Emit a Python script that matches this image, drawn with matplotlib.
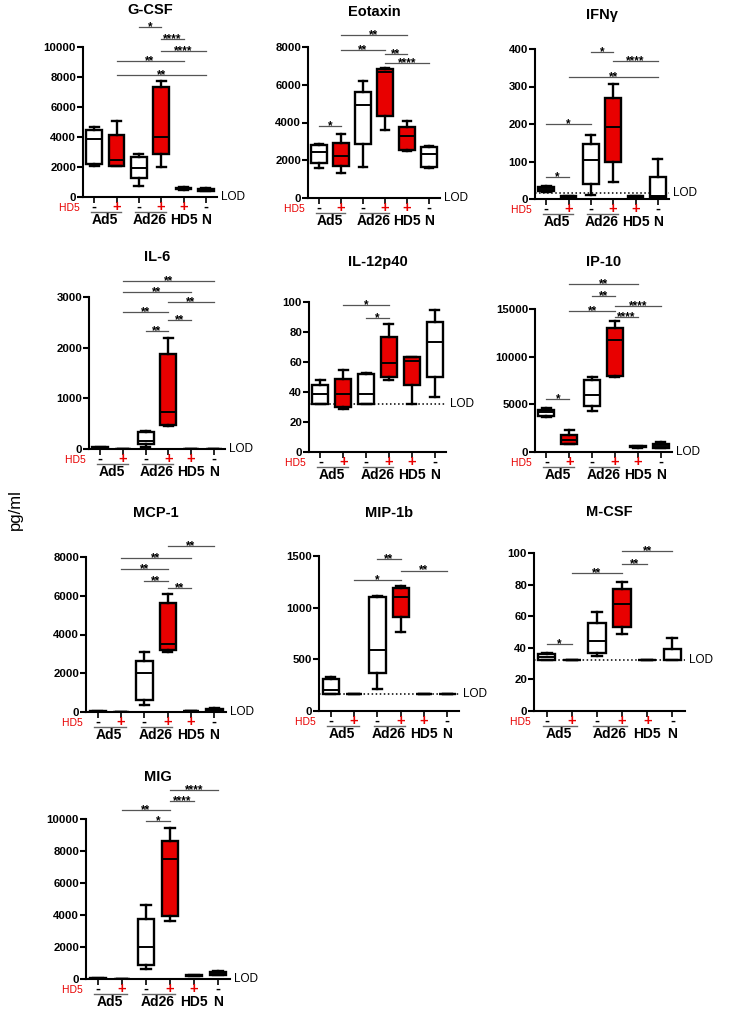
import matplotlib.pyplot as plt

plt.rcParams['font.family'] = ['Liberation Sans', 'DejaVu Sans']

RED = '#e80000'

signs = ['-', '+', '-', '+', '+', '-']
red_fill = [False, True, False, True, True, False]
groups = ['Ad5', 'Ad26', 'HD5', 'N']
group_x = [0.5, 2.5, 4, 5]
group_lines = [(0, 1), (2, 3)]

titles = ['G-CSF', 'Eotaxin', 'IFNγ', 'IL-6', 'IL-12p40', 'IP-10',
          'MCP-1', 'MIP-1b', 'M-CSF', 'MIG']
ymax = [10000, 8000, 400, 3000, 100, 15000, 8000, 1500, 100, 10000]
ystep = [2000, 2000, 100, 1000, 20, 5000, 2000, 500, 20, 2000]
lod = [0, 0, 16, 0, 32, 0, 0, 163, 32, 0]

# whislo, q1, median, q3, whishi  for Ad5-, Ad5+, Ad26-, Ad26+, HD5+, N
gcsf = [[2050, 2200, 3900, 4450, 4700], [2050, 2100, 2500, 4150, 5050],
        [750, 1250, 1950, 2650, 2850], [2000, 2850, 4000, 7300, 7750],
        [480, 520, 560, 600, 640], [380, 430, 500, 560, 620]]
eotaxin = [[1600, 1880, 2450, 2800, 2850], [1350, 1700, 2200, 2900, 3380],
           [1650, 2870, 4950, 5600, 6180], [3600, 4350, 6650, 6820, 6900],
           [2500, 2550, 3300, 3780, 4100], [1600, 1620, 2350, 2720, 2780]]
ifng = [[20, 22, 28, 33, 36], [5, 5, 6, 7, 8],
        [12, 40, 105, 148, 172], [46, 100, 192, 270, 307],
        [5, 5, 6, 7, 8], [5, 6, 8, 60, 108]]
il6 = [[10, 15, 20, 30, 35], [3, 4, 5, 6, 7],
       [40, 90, 150, 340, 360], [460, 480, 730, 1870, 2200],
       [3, 4, 5, 6, 7], [3, 4, 5, 6, 7]]
il12 = [[32, 32, 38.5, 45, 48], [29, 30, 38.5, 48.5, 55],
        [32, 32, 38.5, 52, 53], [48, 50, 59.5, 76.5, 85.5],
        [32, 44.5, 60.5, 63.5, 63.5], [36.5, 50, 73.5, 86.5, 95]]
ip10 = [[3700, 3750, 4150, 4450, 4650], [870, 880, 1300, 1800, 2350],
        [4250, 4800, 6000, 7550, 7850], [7900, 7950, 11700, 13000, 13700],
        [450, 500, 550, 600, 650], [400, 450, 600, 800, 1100]]
mcp1 = [[10, 20, 30, 40, 50], [5, 8, 10, 12, 15],
        [340, 630, 2000, 2640, 3120], [3100, 3200, 3500, 5630, 6100],
        [30, 40, 50, 60, 70], [60, 80, 120, 170, 210]]
mip1b = [[160, 165, 200, 305, 330], [160, 160, 160, 160, 160],
         [210, 370, 590, 1100, 1115], [760, 910, 1105, 1195, 1205],
         [160, 160, 160, 160, 160], [160, 160, 160, 160, 160]]
mcsf = [[32, 32.5, 34, 36, 37], [32, 32, 32, 32, 32],
        [34.5, 36.5, 44, 55.6, 62.5], [48.5, 53, 68, 77.4, 81.6],
        [32, 32, 32, 32, 32], [32, 32, 32, 39, 46.5]]
mig = [[20, 25, 30, 35, 40], [10, 15, 20, 25, 30],
       [625, 900, 2000, 3770, 4600], [3600, 3950, 7500, 8600, 9430],
       [180, 200, 230, 260, 280], [220, 280, 350, 420, 480]]

# significance bars: (from group, to group, height, label)
gcsf_sig = [(2, 3, 11333, '*'), (3, 4, 10533, '****'), (3, 5, 9733, '****'),
            (1, 4, 9067, '**'), (1, 5, 8133, '**')]
eotaxin_sig = [(0, 1, 3830, '*'), (1, 4, 8610, '**'), (1, 3, 7860, '**'),
               (3, 4, 7620, '**'), (3, 5, 7150, '****')]
ifng_sig = [(0, 1, 58, '*'), (0, 2, 200, '*'), (2, 3, 393, '*'),
            (3, 5, 369, '****'), (1, 5, 326, '**')]
il6_sig = [(1, 5, 3322, '**'), (1, 4, 3099, '**'), (3, 5, 2895, '**'),
           (1, 3, 2697, '**'), (3, 4, 2553, '**'), (2, 3, 2322, '**')]
il12_sig = [(1, 3, 97.8, '*'), (2, 3, 89.4, '*')]
ip10_sig = [(0, 1, 5550, '*'), (1, 4, 17600, '**'), (2, 3, 16360, '**'),
            (1, 3, 14830, '**'), (3, 5, 15310, '****'), (3, 4, 14130, '****')]
mcp1_sig = [(3, 5, 8560, '**'), (1, 4, 7960, '**'), (1, 3, 7360, '**'),
            (2, 3, 6750, '**'), (3, 4, 6400, '**')]
mip1b_sig = [(2, 3, 1469, '**'), (3, 5, 1359, '**'), (1, 3, 1268, '*')]
mcsf_sig = [(0, 1, 42.5, '*'), (1, 3, 87.3, '**'), (3, 4, 93.2, '**'),
            (3, 5, 101, '**')]
mig_sig = [(3, 5, 11833, '****'), (3, 4, 11146, '****'), (1, 3, 10542, '**'),
           (2, 3, 9854, '*')]

stats = [gcsf, eotaxin, ifng, il6, il12, ip10, mcp1, mip1b, mcsf, mig]
sigs = [gcsf_sig, eotaxin_sig, ifng_sig, il6_sig, il12_sig, ip10_sig,
        mcp1_sig, mip1b_sig, mcsf_sig, mig_sig]

# panel placement in pixels: left, width, y of zero, y of top, y of title
layout = [(83, 134, 197, 47, 10), (308, 132, 198, 47, 12), (535, 134, 199, 49, 15),
          (89, 136, 449, 297, 257), (309, 137, 452, 302, 262), (535, 137, 452, 309, 262),
          (86, 140, 712, 557, 513), (319, 140, 711, 556, 513), (534, 151, 711, 553, 512),
          (86, 144, 979, 819, 777)]

W, H = 736, 1011
fig = plt.figure(figsize=(W / 100, H / 100), dpi=100)

for k in range(len(titles)):
    L, wpx, y0, yt, ty = layout[k]
    hpx = y0 - yt
    ax = fig.add_axes([L / W, 1 - y0 / H, wpx / W, hpx / H])
    bstats = [dict(whislo=s[0], q1=s[1], med=s[2], q3=s[3], whishi=s[4])
              for s in stats[k]]
    bp = ax.bxp(bstats, positions=range(6), widths=0.7, capwidths=0.4,
                showfliers=False, patch_artist=True,
                boxprops=dict(linewidth=1.7, edgecolor='black'),
                medianprops=dict(color='black', linewidth=1.4),
                whiskerprops=dict(color='black', linewidth=1.7),
                capprops=dict(color='black', linewidth=1.7))
    for box, red in zip(bp['boxes'], red_fill):
        box.set_facecolor(RED if red else 'white')

    ax.set_xlim(-0.5, 5.5)
    ax.set_ylim(0, ymax[k])
    ax.set_yticks(range(0, ymax[k] + 1, ystep[k]))
    ax.set_xticks(range(6))
    ax.set_xticklabels([])
    for t in ax.get_yticklabels():
        t.set_fontweight('bold')
    ax.tick_params(axis='y', labelsize=8.2, width=1.5, length=4, pad=1)
    ax.tick_params(axis='x', width=1.2, length=4)
    for s in ['top', 'right']:
        ax.spines[s].set_visible(False)
    for s in ['left', 'bottom']:
        ax.spines[s].set_linewidth(1.5)
    ax.patch.set_alpha(0)

    # LOD line and label
    ax.plot([-0.5, 5.5], [lod[k], lod[k]], ':', color='black', lw=1.1,
            zorder=1, clip_on=False)
    ax.annotate('LOD', xy=(5.5, lod[k]), xytext=(3, 0), textcoords='offset points',
                ha='left', va='center', fontsize=8.5, annotation_clip=False)

    # significance bars
    for i, j, y, lab in sigs[k]:
        ax.plot([i, j], [y, y], color='#555555', lw=0.9, clip_on=False)
        ax.annotate(lab, xy=((i + j) / 2, y), xytext=(0, -2.2), textcoords='offset points',
                    ha='center', va='baseline', fontsize=8.5, fontweight='bold',
                    annotation_clip=False)

    # x labels
    tr = ax.get_xaxis_transform()
    ax.text(-0.5, -11 / hpx, 'HD5 ', transform=tr, ha='right', va='center',
            fontsize=7.5, color=RED)
    for i, s in enumerate(signs):
        ax.text(i, -10 / hpx, s, transform=tr, ha='center', va='center',
                fontsize=10.5, fontweight='bold', color=RED if s == '+' else 'black')
    for a, b in group_lines:
        ax.plot([a - 0.15, b + 0.2], [-15 / hpx, -15 / hpx], transform=tr,
                color='#666666', lw=1, clip_on=False)
    for name, gx in zip(groups, group_x):
        ax.text(gx, -23 / hpx, name, transform=tr, ha='center', va='center',
                fontsize=10, fontweight='bold')

    fig.text((L + wpx / 2) / W, 1 - ty / H, titles[k], ha='center', va='center',
             fontsize=10.5, fontweight='bold')

fig.text(15 / W, 1 - 510 / H, 'pg/ml', rotation=90, ha='center', va='center', fontsize=12)

fig.savefig('out.png', dpi=100)
